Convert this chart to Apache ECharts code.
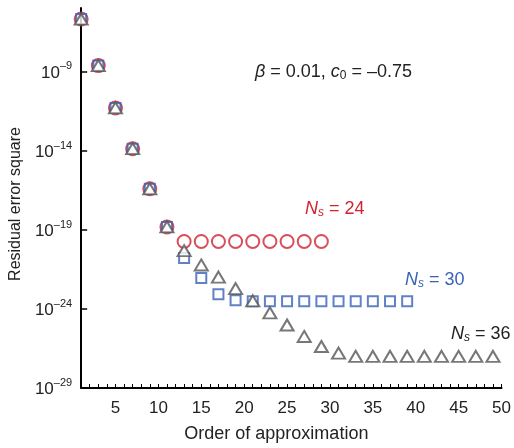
<!DOCTYPE html>
<html>
<head>
<meta charset="utf-8">
<script src="https://cdn.jsdelivr.net/npm/echarts@6/dist/echarts.min.js"></script>
<style>
  html, body { margin: 0; padding: 0; background: #fff; }
  #chart { width: 514px; height: 448px; }
</style>
</head>
<body>
<div id="chart"></div>
<script>
// Approximation order (odd orders only)
const orders24 = [1, 3, 5, 7, 9, 11, 13, 15, 17, 19, 21, 23, 25, 27, 29];
const orders30 = [1, 3, 5, 7, 9, 11, 13, 15, 17, 19, 21, 23, 25, 27, 29, 31, 33, 35, 37, 39];
const orders36 = [1, 3, 5, 7, 9, 11, 13, 15, 17, 19, 21, 23, 25, 27, 29, 31, 33, 35, 37, 39, 41, 43, 45, 47, 49];

// Residual error square for each number of sample points Ns
const residual24 = [2.0e-6, 2.3e-9, 4.9e-12, 1.3e-14, 3.8e-17, 1.5e-19,
  1.8e-20, 1.8e-20, 1.8e-20, 1.8e-20, 1.8e-20, 1.8e-20, 1.8e-20, 1.8e-20, 1.8e-20];
const residual30 = [2.0e-6, 2.3e-9, 4.9e-12, 1.3e-14, 3.8e-17, 1.5e-19,
  1.6e-21, 8.7e-23, 8.3e-24, 3.5e-24, 3.0e-24, 3.0e-24, 3.0e-24, 3.0e-24, 3.0e-24,
  3.0e-24, 3.0e-24, 3.0e-24, 3.0e-24, 3.0e-24];
const residual36 = [2.0e-6, 2.3e-9, 4.9e-12, 1.3e-14, 3.8e-17, 1.5e-19,
  4.7e-21, 5.9e-22, 1.0e-22, 1.9e-23, 3.2e-24, 5.6e-25, 9.5e-26, 1.8e-26, 4.2e-27,
  1.6e-27, 1.0e-27, 1.0e-27, 1.0e-27, 1.0e-27, 1.0e-27, 1.0e-27, 1.0e-27, 1.0e-27, 1.0e-27];

// Tick labels
const xTickLabels = [5, 10, 15, 20, 25, 30, 35, 40, 45, 50];
const xMinorTicks = [];
for (let i = 2; i <= 50; i++) xMinorTicks.push(i);
const yTickLabels = [1e-29, 1e-24, 1e-19, 1e-14, 1e-9];

const RED = '#d1222f';
const BLUE = '#3a62b6';
const GRAY = '#555555';
const TEXT = '#222222';
const FONT = '"Liberation Sans", Arial, sans-serif';

const pair = (xs, ys) => xs.map((x, i) => [x, ys[i]]);

// Italic symbol with subscript, followed by plain text
function symbolRich(color, italicSub) {
  return {
    i: { fontFamily: FONT, fontSize: 18, fontStyle: 'italic', fill: color },
    n: { fontFamily: FONT, fontSize: 18, fill: color },
    sub: { fontFamily: FONT, fontSize: 12, fontStyle: italicSub ? 'italic' : 'normal',
      fill: color, padding: [7, 0, 0, 0] }
  };
}

const chart = echarts.init(document.getElementById('chart'), null, { renderer: 'canvas' });

chart.setOption({
  backgroundColor: '#ffffff',
  animation: false,
  grid: { left: 81, right: 12, top: 8, bottom: 58 },
  xAxis: {
    type: 'value',
    min: 1,
    max: 50,
    name: 'Order of approximation',
    nameLocation: 'middle',
    nameGap: 37,
    nameTextStyle: { fontFamily: FONT, fontSize: 18, color: TEXT, padding: [0, 30, 0, 0] },
    axisLine: { show: true, onZero: false, lineStyle: { color: '#000', width: 2 } },
    axisTick: { show: true, inside: true, length: 4, customValues: xMinorTicks,
      lineStyle: { color: '#000', width: 1 } },
    axisLabel: { customValues: xTickLabels, margin: 12,
      fontFamily: FONT, fontSize: 17, color: TEXT },
    splitLine: { show: false }
  },
  yAxis: {
    type: 'log',
    logBase: 10,
    min: 1e-29,
    max: 1e-5,
    name: 'Residual error square',
    nameLocation: 'middle',
    nameGap: 57,
    nameTextStyle: { fontFamily: FONT, fontSize: 16, color: TEXT, padding: [0, 12, 0, 0] },
    axisLine: { show: true, onZero: false, lineStyle: { color: '#000', width: 2 } },
    axisTick: { show: true, inside: true, length: 6, customValues: yTickLabels,
      lineStyle: { color: '#000', width: 1.5 } },
    axisLabel: {
      customValues: yTickLabels,
      margin: 9,
      formatter: function (v) {
        const e = Math.round(Math.log10(v));
        return '{b|10}{s|' + (e < 0 ? '\u2013' + (-e) : e) + '}';
      },
      rich: {
        b: { fontFamily: FONT, fontSize: 17, color: TEXT, padding: [3, 0, 0, 0] },
        s: { fontFamily: FONT, fontSize: 11, color: TEXT, padding: [0, 0, 10, 0] }
      }
    },
    splitLine: { show: false }
  },
  series: [
    {
      name: 'Ns = 24',
      type: 'scatter',
      data: pair(orders24, residual24),
      symbol: 'circle',
      symbolSize: 13,
      itemStyle: { color: 'rgba(255,255,255,0)', borderColor: RED, borderWidth: 2 },
      z: 2
    },
    {
      name: 'Ns = 30',
      type: 'scatter',
      data: pair(orders30, residual30),
      symbol: 'rect',
      symbolSize: 10,
      itemStyle: { color: 'rgba(255,255,255,0)', borderColor: BLUE, borderWidth: 2 },
      z: 3
    },
    {
      name: 'Ns = 36',
      type: 'scatter',
      data: pair(orders36, residual36),
      symbol: 'triangle',
      symbolSize: [13, 11],
      itemStyle: { color: '#ffffff', borderColor: GRAY, borderWidth: 2 },
      z: 4
    }
  ],
  graphic: [
    {
      type: 'text', left: 255, top: 63,
      style: {
        text: '{i|\u03b2}{n| = 0.01, }{i|c}{sub|0}{n| = \u20130.75}',
        rich: symbolRich(TEXT, false)
      }
    },
    {
      type: 'text', left: 305, top: 200,
      style: { text: '{i|N}{sub|s}{n| = 24}', rich: symbolRich(RED, true) }
    },
    {
      type: 'text', left: 405, top: 271,
      style: { text: '{i|N}{sub|s}{n| = 30}', rich: symbolRich(BLUE, true) }
    },
    {
      type: 'text', left: 451, top: 325,
      style: { text: '{i|N}{sub|s}{n| = 36}', rich: symbolRich(TEXT, true) }
    }
  ]
});
</script>
</body>
</html>
